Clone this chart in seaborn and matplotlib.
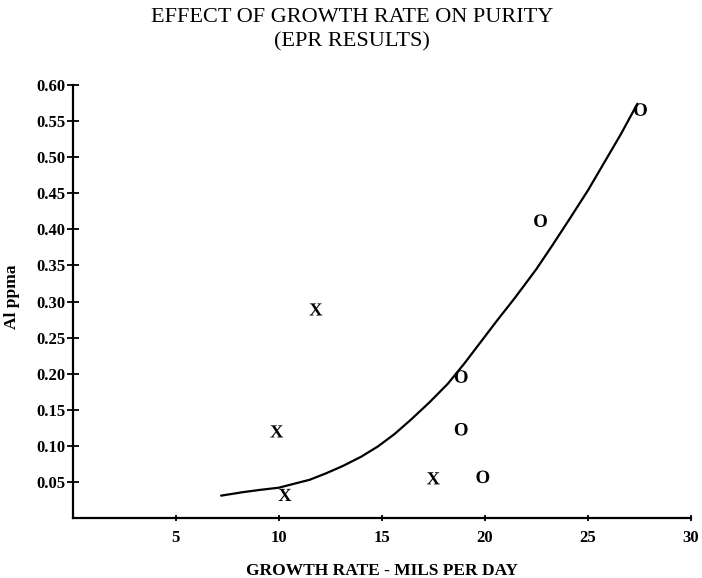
import matplotlib
matplotlib.use("Agg")
import matplotlib.pyplot as plt
import seaborn as sns
import pandas as pd

# Measured samples: growth rate (mils/day) vs Al content (ppma)
x_rate = [11.8, 9.9, 10.3, 17.5, 18.85, 18.85, 19.9, 22.7, 27.55]
al_ppma = [0.289, 0.120, 0.032, 0.055, 0.196, 0.123, 0.057, 0.412, 0.566]
sample_group = ["X", "X", "X", "X", "O", "O", "O", "O", "O"]

# Trend curve through the data
curve_x = [7.2, 8.3, 9.1, 10.0, 11.5, 12.3, 13.1, 14.0, 14.8, 15.6, 16.4,
           17.3, 18.2, 19.0, 19.8, 20.6, 21.4, 21.9, 22.5, 23.3, 24.1,
           25.0, 25.8, 26.6, 27.4]
curve_y = [0.031, 0.036, 0.039, 0.042, 0.053, 0.062, 0.072, 0.085, 0.099,
           0.116, 0.136, 0.160, 0.186, 0.214, 0.244, 0.274, 0.303, 0.322,
           0.345, 0.379, 0.414, 0.454, 0.493, 0.532, 0.574]

x_ticks = [5, 10, 15, 20, 25, 30]
y_ticks = [0.05, 0.10, 0.15, 0.20, 0.25, 0.30, 0.35, 0.40, 0.45, 0.50, 0.55, 0.60]

sns.set_style("white")
plt.rcParams["font.family"] = ["Liberation Serif", "DejaVu Serif"]
plt.rcParams["mathtext.fontset"] = "custom"
plt.rcParams["mathtext.rm"] = "Liberation Serif"
plt.rcParams["mathtext.bf"] = "Liberation Serif:bold"
plt.rcParams["text.color"] = "black"

points = pd.DataFrame({"rate": x_rate, "al": al_ppma, "group": sample_group})
curve = pd.DataFrame({"rate": curve_x, "al": curve_y})

fig = plt.figure(figsize=(7.02, 5.78), dpi=100)
ax = fig.add_axes([0.1036, 0.1038, 0.8807, 0.7491])

sns.lineplot(data=curve, x="rate", y="al", ax=ax, color="black",
             linewidth=1.6, sort=False, estimator=None)
sns.scatterplot(data=points, x="rate", y="al", style="group", ax=ax,
                markers={"X": r"$\mathbf{X}$", "O": r"$\mathbf{O}$"},
                color="black", s=85, linewidth=0, legend=False)

ax.set_xlim(0, 30)
ax.set_ylim(0, 0.60)
ax.set_xticks(x_ticks)
ax.set_yticks(y_ticks)
ax.set_xticklabels([str(t) for t in x_ticks])
ax.set_yticklabels([f"{t:.2f}" for t in y_ticks])

for side in ("top", "right"):
    ax.spines[side].set_visible(False)
for side in ("left", "bottom"):
    ax.spines[side].set_color("black")
    ax.spines[side].set_linewidth(1.6)

ax.tick_params(axis="both", which="major", bottom=True, left=True,
               direction="inout", width=1.3, color="black",
               labelsize=12, labelcolor="black")
ax.tick_params(axis="x", length=5, pad=6)
ax.tick_params(axis="y", length=8, pad=1)
for lab in ax.get_xticklabels() + ax.get_yticklabels():
    lab.set_fontweight("bold")

ax.set_xlabel("GROWTH RATE - MILS PER DAY", fontsize=12.5,
              fontweight="bold", color="black", va="center")
ax.xaxis.set_label_coords(0.5, -0.122)
ax.set_ylabel("Al ppma", fontsize=12.5, fontweight="bold", color="black",
              va="center")
ax.yaxis.set_label_coords(-0.098, 0.51)

fig.text(0.502, 0.986, "EFFECT OF GROWTH RATE ON PURITY\n(EPR RESULTS)",
         ha="center", va="top", fontsize=16, linespacing=1.35,
         color="black")

fig.savefig("out.png", dpi=100)
